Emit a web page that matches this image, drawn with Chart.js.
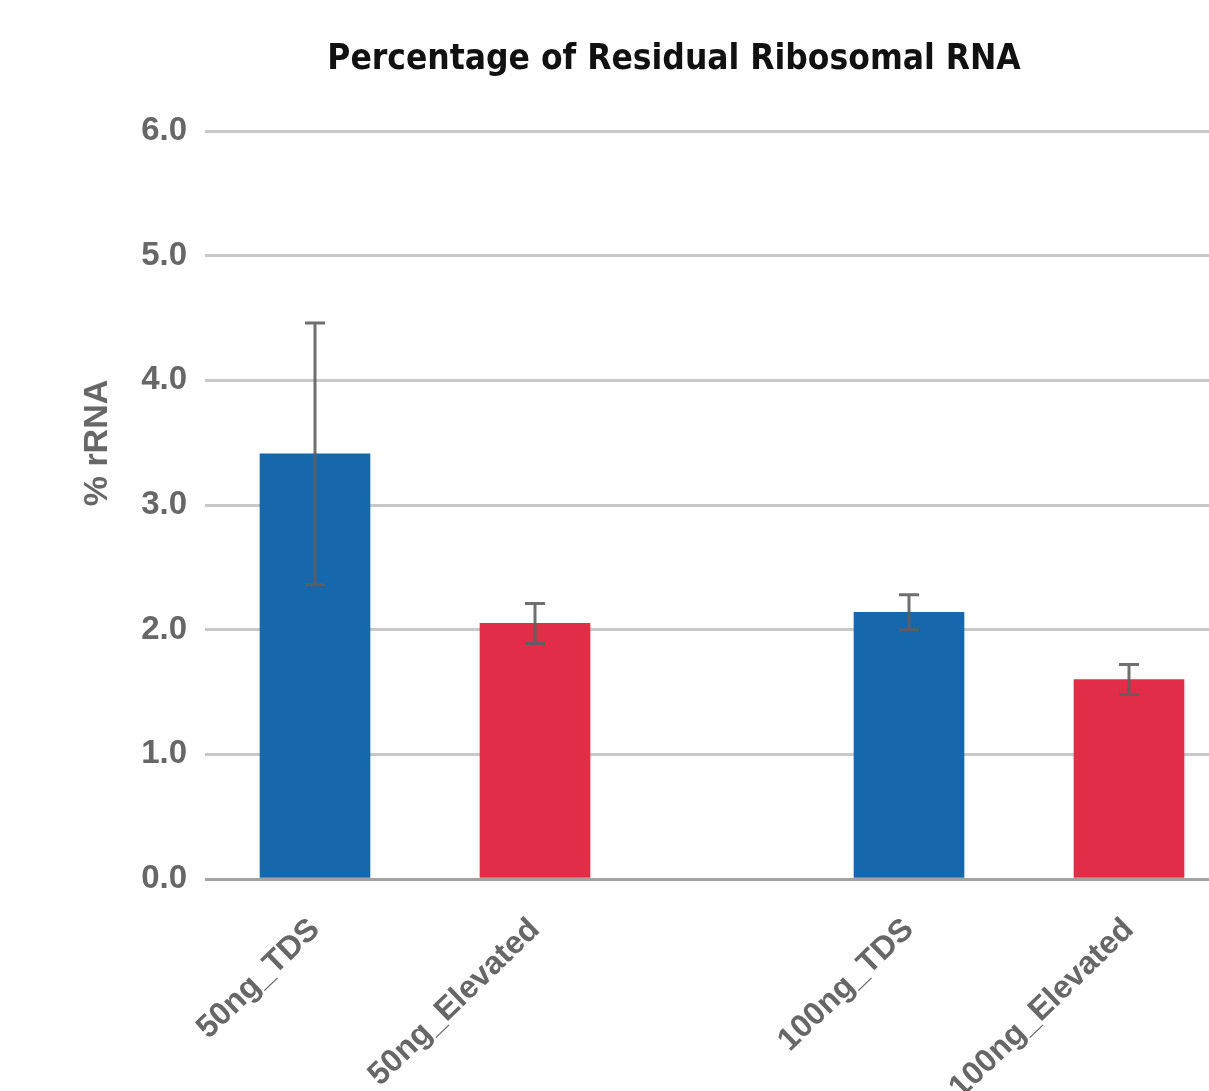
<!DOCTYPE html>
<html>
<head>
<meta charset="utf-8">
<script src="https://cdn.jsdelivr.net/npm/chart.js@4.4.1/dist/chart.umd.min.js"></script>
<style>
  html, body { margin: 0; padding: 0; overflow: hidden; background: #fff; }
  canvas { display: block; }
</style>
</head>
<body>
<canvas id="chart" width="1348" height="1091"></canvas>
<script>
// Residual rRNA per library prep (mean % with error)
const categories = ['50ng_TDS', '50ng_Elevated', '100ng_TDS', '100ng_Elevated'];
const rRNAPercent = [3.41, 2.05, 2.14, 1.60];
const rRNAError = [1.05, 0.16, 0.14, 0.12];
const yTickValues = [0, 1, 2, 3, 4, 5, 6];

// layout of the bars on the x axis, in bar-width units
const CANVAS_W = 1348;
const Y_AXIS_W = 205;
const BAR_PX = 110;
const GROUP_STEP = 5.4;
const PAIR_STEP = 2;
const X_MAX = (CANVAS_W - Y_AXIS_W) / BAR_PX;
const barX = categories.map((_, i) => Math.floor(i / 2) * GROUP_STEP + (i % 2) * PAIR_STEP + 1);

const BLUE = '#1767ad';
const RED = '#e12d47';
const barColors = categories.map((_, i) => (i % 2 === 0 ? BLUE : RED));

const tickFont = { family: '"Liberation Sans", Arial, sans-serif', size: 33, weight: 'bold' };
const tickColor = '#676767';

const errorBars = {
  id: 'errorBars',
  afterDatasetsDraw(chart) {
    const ctx = chart.ctx;
    const y = chart.scales.y;
    const meta = chart.getDatasetMeta(0);
    ctx.save();
    ctx.strokeStyle = 'rgba(95,95,95,0.9)';
    ctx.lineWidth = 3;
    meta.data.forEach((bar, i) => {
      const top = y.getPixelForValue(rRNAPercent[i] + rRNAError[i]);
      const bot = y.getPixelForValue(rRNAPercent[i] - rRNAError[i]);
      ctx.beginPath();
      ctx.moveTo(bar.x, top); ctx.lineTo(bar.x, bot);
      ctx.moveTo(bar.x - 10, top); ctx.lineTo(bar.x + 10, top);
      ctx.moveTo(bar.x - 10, bot); ctx.lineTo(bar.x + 10, bot);
      ctx.stroke();
    });
    ctx.restore();
  }
};

const yTitle = {
  id: 'yTitle',
  afterDraw(chart) {
    const ctx = chart.ctx;
    ctx.save();
    ctx.translate(98, 443);
    ctx.rotate(-Math.PI / 2);
    ctx.textAlign = 'center';
    ctx.textBaseline = 'middle';
    ctx.font = 'bold 34px "Liberation Sans", Arial, sans-serif';
    ctx.fillStyle = tickColor;
    ctx.fillText('% rRNA', 0, 0);
    ctx.restore();
  }
};

new Chart(document.getElementById('chart'), {
  type: 'bar',
  data: {
    datasets: [{
      data: categories.map((c, i) => ({ x: barX[i], y: rRNAPercent[i] })),
      backgroundColor: barColors,
      borderWidth: 0,
      barThickness: BAR_PX
    }]
  },
  options: {
    responsive: false,
    animation: false,
    layout: { padding: 0 },
    plugins: {
      legend: { display: false },
      tooltip: { enabled: false },
      title: {
        display: true,
        text: 'Percentage of Residual Ribosomal RNA',
        color: '#111',
        font: { family: '"DejaVu Sans Condensed", "Liberation Sans Narrow", sans-serif', size: 35, weight: 'bold' },
        padding: { top: 39, bottom: 50 }
      }
    },
    scales: {
      x: {
        type: 'linear',
        offset: false,
        min: 0,
        max: X_MAX,
        grid: { display: false },
        border: { display: false },
        afterBuildTicks(scale) { scale.ticks = barX.map(v => ({ value: v })); },
        afterFit(scale) { scale.height = 212; },
        ticks: {
          autoSkip: false,
          minRotation: 44,
          maxRotation: 44,
          padding: 24,
          font: { ...tickFont, size: 32 },
          color: tickColor,
          callback: (value, index) => categories[index]
        }
      },
      y: {
        min: 0,
        max: 6,
        afterBuildTicks(scale) { scale.ticks = yTickValues.map(v => ({ value: v })); },
        afterFit(scale) { scale.width = Y_AXIS_W; },
        border: { display: false },
        grid: {
          drawTicks: false,
          lineWidth: 3,
          color: ctx => (ctx.tick && ctx.tick.value === 0 ? '#a2a2a2' : '#c8c8c8')
        },
        ticks: {
          padding: 18,
          font: tickFont,
          color: tickColor,
          callback: v => v.toFixed(1)
        }
      }
    }
  },
  plugins: [errorBars, yTitle]
});
</script>
</body>
</html>
